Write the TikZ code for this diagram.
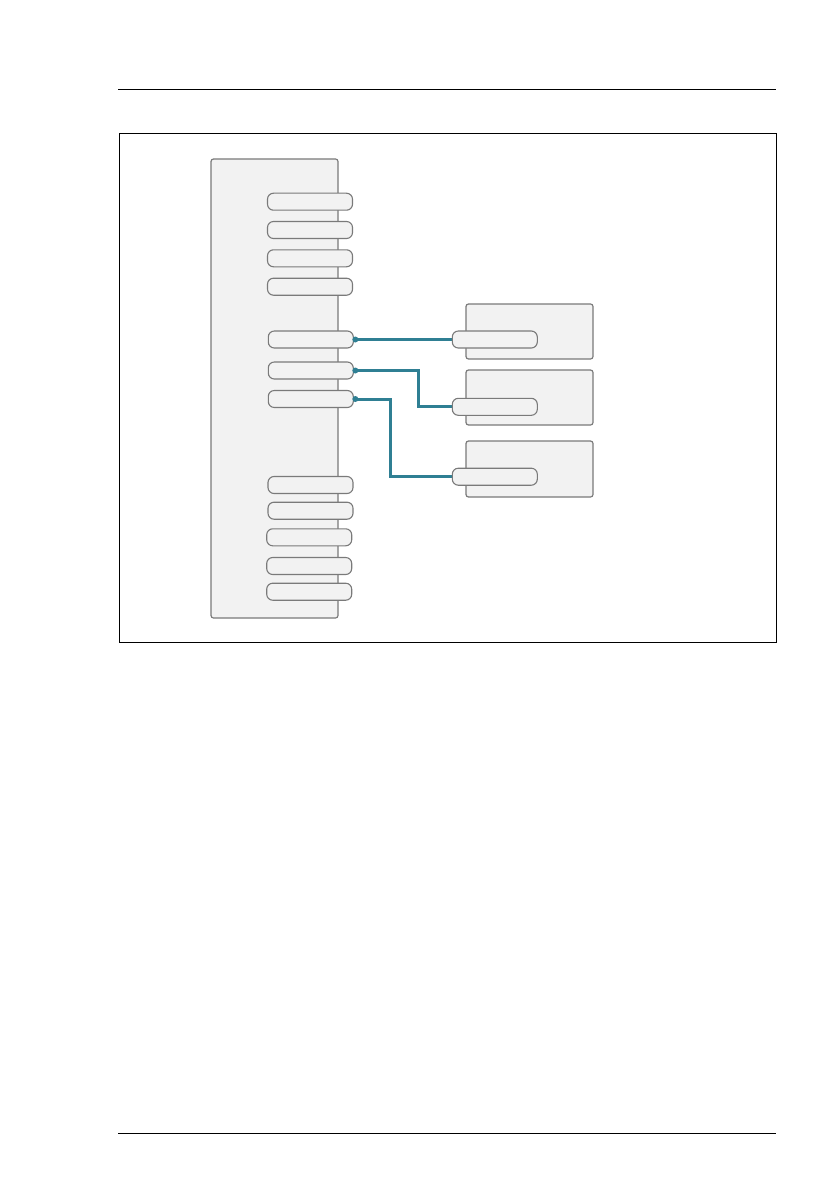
\documentclass[tikz,border=0pt]{standalone}
\usetikzlibrary{positioning}
\definecolor{boxgray}{HTML}{F2F2F2}
\definecolor{linegray}{HTML}{7A7A7A}
\definecolor{wireteal}{HTML}{2F7F93}
\begin{document}
\begin{tikzpicture}[x=1pt, y=-1pt,
	block/.style={shape=rectangle, draw=linegray, fill=boxgray, rounded corners=2.5pt, line width=1.2pt, inner sep=0pt},
	port/.style={shape=rectangle, draw=linegray, fill=boxgray, rounded corners=6pt, line width=1.1pt, minimum width=85pt, minimum height=17pt, inner sep=0pt},
	wire/.style={draw=wireteal, line width=3pt},
	pin/.style={shape=circle, fill=wireteal, inner sep=0pt, minimum size=6pt}]
			\useasboundingbox[fill=white] (0, 0) rectangle (838, 1190);
			% Page rules and frame:
			\draw[line width=1pt] (118, 90) -- (776, 90);
			\draw[line width=1pt] (118, 1133) -- (776, 1133);
			\draw[line width=1pt] (119, 134) rectangle (776, 642);
			% Blocks:
			\node[block, minimum width=127pt, minimum height=459pt](M1) at (274.5, 388.5){};
			\node[block, minimum width=127pt, minimum height=55pt](B1) at (529.5, 331.5){};
			\node[block, minimum width=127pt, minimum height=55pt](B2) at (529.5, 397.5){};
			\node[block, minimum width=127pt, minimum height=56pt](B3) at (529.5, 469){};
			% Bends of the wires:
			\coordinate (K2) at (418, 0);
			\coordinate (K3) at (390, 0);
			% Ports of the main block:
			\node[port](L1) at (310, 201.7){};
			\node[port](L2) at (310, 230){};
			\node[port](L3) at (310, 258.3){};
			\node[port](L4) at (310, 286.7){};
			\node[port](L5) at (310.8, 339.5){};
			\node[port](L6) at (310.8, 370.5){};
			\node[port](L7) at (310.8, 399){};
			\node[port](L8) at (310.5, 485){};
			\node[port](L9) at (310.5, 510.7){};
			\node[port](L10) at (309.2, 537.3){};
			\node[port](L11) at (309.2, 566){};
			\node[port](L12) at (309.2, 591.7){};
			% Wires:
			\coordinate (E1) at (452.3, 339.5);
			\coordinate (E2) at (452.3, 406.8);
			\coordinate (E3) at (452.3, 476.7);
			\draw[wire] (L5.east) -- (E1);
			\draw[wire] (L6.east) -- (L6.east -| K2) |- (E2);
			\draw[wire] (L7.east) -- (L7.east -| K3) |- (E3);
			% Ports of the three boxes:
			\node[port](R1) at (494.8, 339.5){};
			\node[port](R2) at (494.8, 406.8){};
			\node[port](R3) at (494.8, 476.7){};
			\node[pin](P1) at ([xshift=1.5pt]L5.east){};
			\node[pin](P2) at ([xshift=1.5pt]L6.east){};
			\node[pin](P3) at ([xshift=1.5pt]L7.east){};
		\end{tikzpicture}
\end{document}
